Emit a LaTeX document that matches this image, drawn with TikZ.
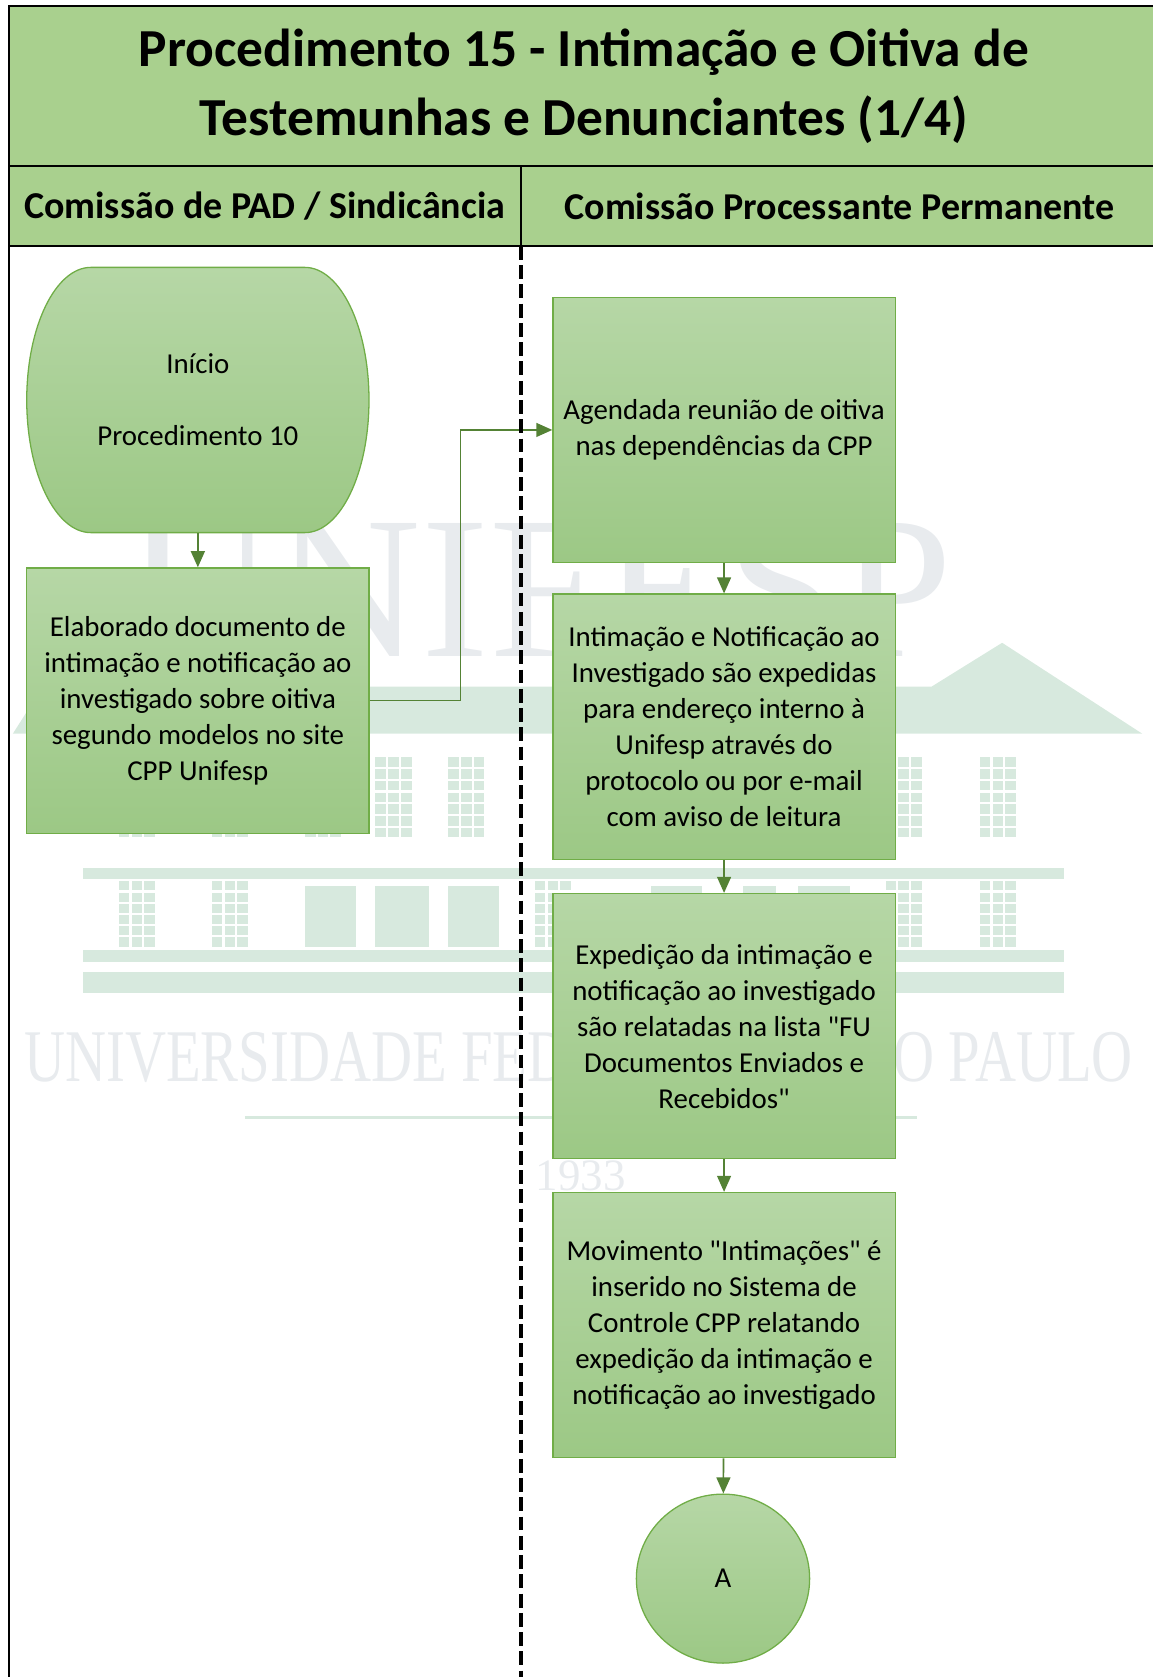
\documentclass[tikz,border=0pt]{standalone}
\usepackage{fontspec}
\usepackage{graphicx}
\setmainfont{Carlito}[Ligatures=TeXOff]
\newfontfamily\wmfont{Liberation Serif}
\usetikzlibrary{arrows.meta,shapes.geometric}
\definecolor{band}{HTML}{A9D08E}
\definecolor{boxtop}{HTML}{B6D7A6}
\definecolor{boxbot}{HTML}{9CC885}
\definecolor{boxline}{HTML}{70AD47}
\definecolor{arrowc}{HTML}{548235}
\definecolor{wmgray}{HTML}{E8EBEE}
\definecolor{wmgreen}{HTML}{D7E9DE}

\begin{document}
\begin{tikzpicture}[x=1pt,y=-1pt,
  body/.style={font=\fontsize{27}{33.7}\selectfont},
  proc/.style={body,draw=boxline,line width=1.2pt,top color=boxtop,bottom color=boxbot,
    minimum width=320pt,minimum height=248pt,inner sep=0pt,align=center},
  startnode/.style={body,minimum width=320pt,minimum height=248pt,inner sep=0pt,align=center},
  startfill/.style={draw=boxline,line width=1.2pt,top color=boxtop,bottom color=boxbot},
  endc/.style={body,ellipse,draw=boxline,line width=1.2pt,top color=boxtop,bottom color=boxbot,
    minimum width=162pt,minimum height=158pt,inner sep=0pt},
  lane/.style={font=\bfseries\fontsize{35.5}{40}\selectfont},
  frame/.style={draw=black,line width=1.8pt},
  lanesep/.style={draw=black,line width=3.4pt,dash pattern=on 13pt off 5pt},
  link/.style={draw=arrowc,line width=1.5pt,->,>={Triangle[length=15pt,width=13pt]}},
  wmark/.style={text=wmgray,inner sep=0pt,anchor=base}]
\useasboundingbox (0,0) rectangle (1078,1568);
\clip (0,0) rectangle (1078,1568);

\node[wmark,font=\wmfont\fontsize{190}{190}\selectfont] (w1) at (505,614) {UNIFESP};
\fill[wmgreen] (12,686) -- (40,642) -- (871,642) -- (937,601) -- (1068,686) -- cycle;
\foreach \wx in {111,198,285,351,419,828,916}
  \foreach \c in {0,1,2}
    \foreach \r in {0,...,6}
      \fill[wmgreen] (\wx+\c*12,708+\r*11) rectangle ++(10,9);
\foreach \wx in {111,198,500,828,916}
  \foreach \c in {0,1,2}
    \foreach \r in {0,...,5}
      \fill[wmgreen] (\wx+\c*12,824+\r*10.5) rectangle ++(10,8.5);
\foreach \wx/\ww in {285/48,351/50,419/48,609/47,695/31,746/49}
  \fill[wmgreen] (\wx,828) rectangle ++(\ww,57);
\foreach \by/\bh in {812/10,888/11,909/19}
  \fill[wmgreen] (78,\by) rectangle ++(917,\bh);
\node[wmark,font=\wmfont\fontsize{69.5}{70}\selectfont] (w2) at (541,1011) {\scalebox{0.764}[1]{UNIVERSIDADE FEDERAL DE SÃO PAULO}};
\draw[wmgreen,line width=3pt] (229,1045) -- (857,1045);
\node[wmark,font=\wmfont\fontsize{42}{42}\selectfont] (w3) at (543,1113) {1933};

\path[frame,fill=band] (8,6) rectangle (1084,155);
\path[frame,fill=band] (8,155) rectangle (1084,230);
\path[frame] (8,230) rectangle (1084,1600);
\path[frame] (487,155) -- (487,230);

\node[font=\bfseries\fontsize{50}{65}\selectfont,align=center] (t) at (546,80.5) {Procedimento 15 - Intimação e Oitiva de\\Testemunhas e Denunciantes (1/4)};
\node[lane] (l1) at (247.5,192.5) {Comissão de PAD / Sindicância};
\node[lane] (l2) at (785,192.5) {Comissão Processante Permanente};

\path[startfill] (85,250) -- (285,250) arc[start angle=-90,end angle=90,x radius=60,y radius=124]
  -- (85,498) arc[start angle=90,end angle=270,x radius=60,y radius=124] -- cycle;
\node[startnode] (1) at (185,374) {Início\\[33.7pt]Procedimento 10};
\node[proc] (2) at (185,655) {Elaborado documento de\\intimação e notificação ao\\investigado sobre oitiva\\segundo modelos no site\\CPP Unifesp};
\node[proc] (3) at (677,402) {Agendada reunião de oitiva\\nas dependências da CPP};
\node[proc] (4) at (677,679.5) {Intimação e Notificação ao\\Investigado são expedidas\\para endereço interno à\\Unifesp através do\\protocolo ou por e-mail\\com aviso de leitura};
\node[proc] (5) at (677,959.5) {Expedição da intimação e\\notificação ao investigado\\são relatadas na lista "FU\\Documentos Enviados e\\Recebidos"};
\node[proc] (6) at (677,1239) {Movimento "Intimações" é\\inserido no Sistema de\\Controle CPP relatando\\expedição da intimação e\\notificação ao investigado};
\node[endc] (7) at (676,1476) {A};

\path[link] (1) -- (2);
\path[link] (2.east) -- ++(85,0) |- (3.west);
\path[link] (3) -- (4);
\path[link] (4) -- (5);
\path[link] (5) -- (6);
\path[link] (6) -- (7);

\path[lanesep] (487,230) -- (487,1568);
\end{tikzpicture}
\end{document}
